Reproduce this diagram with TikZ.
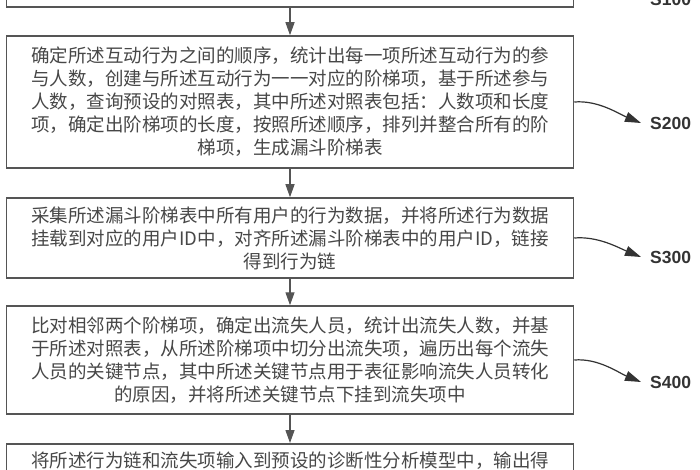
\documentclass[tikz,border=0pt]{standalone}
\usepackage{fontspec}
\newfontfamily\cjk{Noto Sans CJK SC}
\newfontfamily\labfont{Liberation Sans}
\usetikzlibrary{arrows.meta}
\definecolor{edgegray}{HTML}{555555}
\definecolor{txtgray}{HTML}{474747}
\definecolor{labgray}{HTML}{333333}
\tikzset{
  stepbox/.style={draw=edgegray, line width=1.5pt, rectangle, minimum width=567pt, align=center, inner sep=0pt, text=txtgray, font=\cjk\fontsize{18.5}{23}\selectfont},
  flow/.style={draw=edgegray, line width=1.3pt, -{Triangle[length=13pt,width=9pt]}},
  tag/.style={draw=labgray, line width=1.2pt, -{Triangle[length=16pt,width=10pt]}},
  steplabel/.style={anchor=west, inner sep=0pt, text=labgray, font=\labfont\bfseries\fontsize{17.5}{19}\selectfont}
}
\begin{document}
\begin{tikzpicture}[x=1pt,y=-1pt]
\useasboundingbox (0,0) rectangle (700,470);
\clip (0,0) rectangle (700,470);
% boxes
\node[stepbox, minimum height=98pt] (b1) at (290,-42) {};
\node[stepbox, minimum height=132pt] (b2) at (290,102) {确定所述互动行为之间的顺序，统计出每一项所述互动行为的参\\与人数，创建与所述互动行为一一对应的阶梯项，基于所述参与\\人数，查询预设的对照表，其中所述对照表包括：人数项和长度\\项，确定出阶梯项的长度，按照所述顺序，排列并整合所有的阶\\梯项，生成漏斗阶梯表};
\node[stepbox, minimum height=80pt] (b3) at (290,238) {采集所述漏斗阶梯表中所有用户的行为数据，并将所述行为数据\\挂载到对应的用户ID中，对齐所述漏斗阶梯表中的用户ID，链接\\得到行为链};
\node[stepbox, minimum height=108pt] (b4) at (290,360) {比对相邻两个阶梯项，确定出流失人员，统计出流失人数，并基\\于所述对照表，从所述阶梯项中切分出流失项，遍历出每个流失\\人员的关键节点，其中所述关键节点用于表征影响流失人员转化\\的原因，并将所述关键节点下挂到流失项中};
\node[stepbox, minimum height=120pt, anchor=north] (b5) at (290,443) {};
\node[stepbox, draw=none, minimum width=0pt, anchor=north] (t5) at ([yshift=-8pt]b5.north) {将所述行为链和流失项输入到预设的诊断性分析模型中，输出得};
% flow arrows
\draw[flow] (b1) -- (b2);
\draw[flow] (b2) -- (b3);
\draw[flow] (b3) -- (b4);
\draw[flow] (b4) -- (b5);
% step labels
\coordinate (e1) at (641,-1);
\coordinate (e2) at (641,123);
\coordinate (e3) at (641,257);
\coordinate (e4) at (641,382);
\node[steplabel] (l1) at (650,-1) {S100};
\node[steplabel] (l2) at (650,123) {S200};
\node[steplabel] (l3) at (650,257) {S300};
\node[steplabel] (l4) at (650,382) {S400};
\draw[tag] ([yshift=-20pt]b1.east) .. controls +(24,-2) and +(-22,-9) .. (e1);
\draw[tag] (b2.east) .. controls +(24,-2) and +(-22,-9) .. (e2);
\draw[tag] (b3.east) .. controls +(24,-2) and +(-22,-9) .. (e3);
\draw[tag] (b4.east) .. controls +(24,-2) and +(-22,-9) .. (e4);
\end{tikzpicture}
\end{document}
